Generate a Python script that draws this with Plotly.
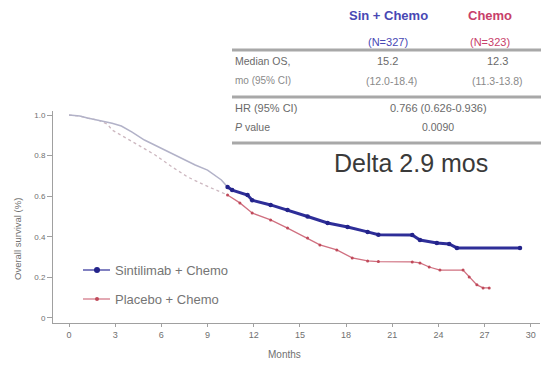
import plotly.graph_objects as go

# ---- data ----
sin_months = [0, 0.7, 1.2, 1.9, 2.8, 3.4, 4.1, 4.9, 6.0, 7.1, 8.2, 9.0, 9.9, 10.3,
              10.6, 11.6, 11.9, 13.1, 14.2, 15.5, 16.8, 18.1, 19.4, 20.1, 22.3,
              22.8, 23.9, 24.7, 25.2, 29.3]
sin_surv = [1.0, 0.995, 0.985, 0.975, 0.96, 0.946, 0.916, 0.877, 0.837, 0.793, 0.754,
            0.729, 0.68, 0.645, 0.63, 0.606, 0.58, 0.557, 0.532, 0.50, 0.468, 0.448,
            0.424, 0.41, 0.409, 0.384, 0.369, 0.365, 0.345, 0.345]
pbo_months = [0, 0.7, 1.2, 1.9, 2.5, 2.8, 4.5, 5.6, 6.7, 7.7, 8.8, 9.9, 10.3, 11.1,
              11.9, 13.1, 14.2, 15.5, 16.3, 17.4, 18.4, 19.4, 20.1, 22.3, 22.8, 23.4,
              24.1, 25.6, 26.0, 26.5, 26.9, 27.3]
pbo_surv = [1.0, 0.995, 0.985, 0.975, 0.955, 0.926, 0.852, 0.803, 0.744, 0.695, 0.655,
            0.621, 0.606, 0.567, 0.517, 0.483, 0.443, 0.394, 0.36, 0.335, 0.296, 0.281,
            0.278, 0.276, 0.271, 0.251, 0.236, 0.236, 0.202, 0.163, 0.148, 0.148]
split_month = 10.3
x_ticks = [0, 3, 6, 9, 12, 15, 18, 21, 24, 27, 30]
y_ticks = [0, 0.2, 0.4, 0.6, 0.8, 1.0]
y_ticktext = ["0", "0.2", "0.4", "0.6", "0.8", "1.0"]
legend_names = ["Sintilimab + Chemo", "Placebo + Chemo"]

# ---- geometry helpers ----
L, R, T, B = 53, 1, 111, 43
W, H = 541, 366
pw, ph = W - L - R, H - T - B
def px(x): return (x - L) / pw
def py(y): return (H - B - y) / ph

def split(m, s):
    early = [(a, b) for a, b in zip(m, s) if a <= split_month]
    late = [(a, b) for a, b in zip(m, s) if a >= split_month]
    return list(zip(*early)), list(zip(*late))

BLUE_LINE, BLUE_MK = "#2e2e98", "#23238a"
RED_LINE, RED_MK = "#d07080", "#c04a5a"

fig = go.Figure()
(se_m, se_s), (sl_m, sl_s) = split(sin_months, sin_surv)
(pe_m, pe_s), (pl_m, pl_s) = split(pbo_months, pbo_surv)

fig.add_trace(go.Scatter(x=pe_m, y=pe_s, mode="lines", showlegend=False,
                         line=dict(color="#cdb8c0", width=1.3, dash="dot")))
fig.add_trace(go.Scatter(x=se_m, y=se_s, mode="lines", showlegend=False,
                         line=dict(color="#b2b2c8", width=1.5)))
fig.add_trace(go.Scatter(x=pl_m, y=pl_s, mode="lines+markers", showlegend=False,
                         line=dict(color=RED_LINE, width=1.3),
                         marker=dict(color=RED_MK, size=3)))
fig.add_trace(go.Scatter(x=sl_m, y=sl_s, mode="lines+markers", showlegend=False,
                         line=dict(color=BLUE_LINE, width=3),
                         marker=dict(color=BLUE_MK, size=4.5)))

axis_common = dict(showline=True, linecolor="#a0a0a0", linewidth=1, ticks="outside",
                   tickcolor="#a0a0a0", showgrid=False, zeroline=False)
fig.update_layout(
    width=W, height=H, margin=dict(l=L, r=R, t=T, b=B),
    paper_bgcolor="white", plot_bgcolor="white", showlegend=False,
    xaxis=dict(range=[-1.04, 30.6], tickvals=x_ticks, ticklen=3,
               tickfont=dict(size=9, color="#707070", family="Liberation Sans"),
               **axis_common),
    yaxis=dict(range=[-0.025, 1.02], tickvals=y_ticks, ticktext=y_ticktext, ticklen=5,
               tickfont=dict(size=8, color="#707070", family="Liberation Sans"),
               **axis_common),
    font=dict(family="Liberation Sans"),
)

def ann(x, y, text, size=9, color="#707070", xanchor="center", angle=0):
    fig.add_annotation(x=px(x), y=py(y), xref="paper", yref="paper", text=text,
                       showarrow=False, xanchor=xanchor, yanchor="middle",
                       textangle=angle, font=dict(size=size, color=color,
                                                  family="Liberation Sans"))

ann(17, 239, "Overall survival (%)", size=9.5, angle=-90)
ann(284, 354, "Months", size=10)

# legend (drawn by hand)
for name, yl, lc, mc, lw, ms in [(legend_names[0], 270, BLUE_LINE, BLUE_MK, 1.2, 3),
                                 (legend_names[1], 299, RED_LINE, RED_MK, 1.2, 2)]:
    fig.add_shape(type="line", xref="paper", yref="paper", x0=px(83), x1=px(110),
                  y0=py(yl), y1=py(yl), line=dict(color=lc, width=lw))
    fig.add_shape(type="circle", xref="paper", yref="paper", x0=px(97 - ms),
                  x1=px(97 + ms), y0=py(yl + ms), y1=py(yl - ms),
                  fillcolor=mc, line=dict(width=0))
    ann(113, yl, name, size=13, color="#757575", xanchor="left")

# table
blue, red, grey, lgrey = "#4848b4", "#c8406a", "#6a6a6a", "#8a8a8a"
ann(388, 15, "<b>Sin + Chemo</b>", size=13, color=blue)
ann(490, 15, "<b>Chemo</b>", size=13, color=red)
ann(388, 42, "(N=327)", size=11, color=blue)
ann(490, 42, "(N=323)", size=11, color=red)
ann(233, 61, "Median OS,", size=10.5, color=grey, xanchor="left")
ann(233, 81, "mo (95% CI)", size=10, color=lgrey, xanchor="left")
ann(387, 61, "15.2", size=11, color=grey)
ann(497, 61, "12.3", size=11, color=grey)
ann(391, 81, "(12.0-18.4)", size=10.5, color=lgrey)
ann(497, 81, "(11.3-13.8)", size=10.5, color=lgrey)
ann(233, 108, "HR (95% CI)", size=11, color=grey, xanchor="left")
ann(438, 108, "0.766 (0.626-0.936)", size=11, color=grey)
ann(233, 127, "<i>P</i> value", size=10.5, color=grey, xanchor="left")
ann(438, 127, "0.0090", size=10.5, color=grey)
ann(411, 163, "Delta 2.9 mos", size=25, color="#3a3a3a")

for yline in [50, 97, 143]:
    fig.add_shape(type="line", xref="paper", yref="paper", x0=px(232), x1=px(541),
                  y0=py(yline), y1=py(yline), line=dict(color="#a8a8a8", width=3))

fig.write_html("out.html")
